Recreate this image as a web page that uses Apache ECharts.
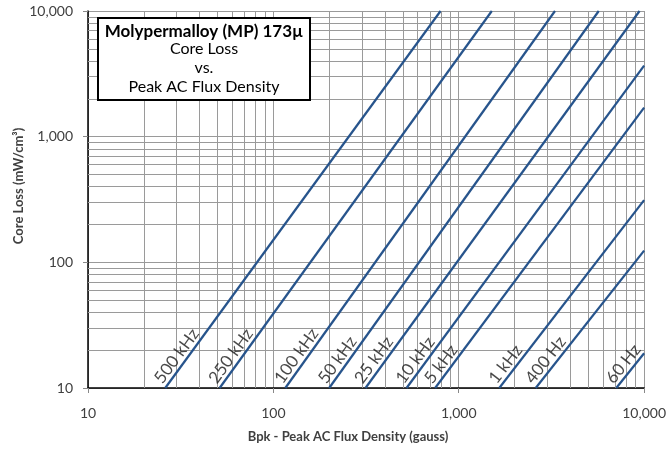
<!DOCTYPE html>
<html>
<head>
<meta charset="utf-8">
<script src="https://cdn.jsdelivr.net/npm/echarts@6/dist/echarts.min.js"></script>
<style>
html,body{margin:0;padding:0;background:#fff;}
#chart{width:669px;height:452px;}
</style>
</head>
<body>
<div id="chart"></div>
<script>
// ---- data ----
const freqLabels = ['500 kHz','250 kHz','100 kHz','50 kHz','25 kHz','10 kHz','5 kHz','1 kHz','400 Hz','60 Hz'];
// each line: start point (flux at loss = 10) and end point where it leaves the plot
const startFlux = [26.1, 51.3, 116, 200, 314, 523, 746, 1654, 2601, 7077];
const startLoss = [10, 10, 10, 10, 10, 10, 10, 10, 10, 10];
const endFlux   = [798, 1508, 3305, 5691, 9447, 10000, 10000, 10000, 10000, 10000];
const endLoss   = [10000, 10000, 10000, 10000, 10000, 3670, 1700, 313, 124, 18.9];
// axis ticks
const majorTicks = [10, 100, 1000, 10000];
const minorGrid = [20,30,40,50,60,70,80,90,200,300,400,500,600,700,800,900,2000,3000,4000,5000,6000,7000,8000,9000];

const FONT = 'Lato, "Open Sans", sans-serif';
const LINE_COLOR = '#27548c';
const GRID_COLOR = '#9a9a9a';

const fmt = v => Math.round(v).toLocaleString('en-US');

function logAxis(extra) {
  return Object.assign({
    type: 'log', logBase: 10, min: majorTicks[0], max: majorTicks[majorTicks.length-1],
    axisLine: {show: true, onZero: false, lineStyle: {color: '#000', width: 1.5}},
    axisTick: {show: true, length: 5, lineStyle: {color: '#888'}},
    splitLine: {show: true, lineStyle: {color: GRID_COLOR, width: 1}},
    minorTick: {show: false}, minorSplitLine: {show: false}
  }, extra);
}

const lineSeries = freqLabels.map((name, i) => ({
  id: 'line' + i,
  name: name,
  type: 'line',
  showSymbol: false,
  symbol: 'none',
  clip: true,
  z: 5,
  lineStyle: {color: LINE_COLOR, width: 2.2},
  data: [[startFlux[i], startLoss[i]], [endFlux[i], endLoss[i]]],
  silent: true,
  animation: false
}));

const gridSeries = {
  id: 'minorGrid',
  type: 'line',
  data: [[majorTicks[0], majorTicks[0]]],
  symbol: 'none',
  lineStyle: {opacity: 0},
  z: 1,
  silent: true,
  animation: false,
  markLine: {
    silent: true, symbol: 'none', animation: false,
    label: {show: false},
    lineStyle: {color: GRID_COLOR, width: 1, type: 'solid'},
    data: minorGrid.map(v => ({xAxis: v})).concat(minorGrid.map(v => ({yAxis: v})))
  }
};

const labelSeries = {
  id: 'labels',
  type: 'scatter',
  symbolSize: 0,
  z: 6,
  silent: true,
  animation: false,
  data: freqLabels.map((name, i) => ({name: name, value: [startFlux[i], startLoss[i]]})),
  label: {
    show: true,
    position: [0, 0],
    formatter: p => p.name,
    align: 'left',
    verticalAlign: 'bottom',
    offset: [1, -1],
    fontFamily: FONT,
    fontSize: 17,
    color: '#1a1a1a'
  }
};

const option = {
  animation: false,
  backgroundColor: '#fff',
  grid: {left: 88, right: 22, top: 11, bottom: 64, containLabel: false},
  xAxis: logAxis({
    axisLabel: {formatter: fmt, fontFamily: FONT, fontSize: 14, color: '#404040', margin: 18}
  }),
  yAxis: logAxis({
    axisLabel: {formatter: fmt, fontFamily: FONT, fontSize: 14, color: '#404040', margin: 15}
  }),
  series: [gridSeries].concat(lineSeries, [labelSeries]),
  graphic: [
    {type: 'rect', shape: {x: 98, y: 18, width: 212, height: 82}, style: {fill: '#fff', stroke: '#000', lineWidth: 2}, z: 100},
    {type: 'text', x: 204, y: 32, z: 101, style: {text: 'Molypermalloy (MP) 173µ', font: 'bold 17px ' + FONT, fill: '#000', align: 'center', verticalAlign: 'middle'}},
    {type: 'text', x: 204, y: 49, z: 101, style: {text: 'Core Loss', font: '16px ' + FONT, fill: '#000', align: 'center', verticalAlign: 'middle'}},
    {type: 'text', x: 204, y: 68, z: 101, style: {text: 'vs.', font: '16px ' + FONT, fill: '#000', align: 'center', verticalAlign: 'middle'}},
    {type: 'text', x: 204, y: 87, z: 101, style: {text: 'Peak AC Flux Density', font: '16px ' + FONT, fill: '#000', align: 'center', verticalAlign: 'middle'}},
    {type: 'text', x: 348, y: 437, z: 101, style: {text: 'Bpk - Peak AC Flux Density (gauss)', font: 'bold 13px ' + FONT, fill: '#404040', align: 'center', verticalAlign: 'middle'}},
    {type: 'text', x: 19, y: 186, rotation: Math.PI / 2, z: 101, style: {text: 'Core Loss (mW/cm³)', font: 'bold 13px ' + FONT, fill: '#404040', align: 'center', verticalAlign: 'middle'}}
  ]
};

const chart = echarts.init(document.getElementById('chart'), null, {renderer: 'canvas'});
chart.setOption(option);

// rotate each label to follow its line on screen
const rotated = freqLabels.map((name, i) => {
  const p0 = chart.convertToPixel({gridIndex: 0}, [startFlux[i], startLoss[i]]);
  const p1 = chart.convertToPixel({gridIndex: 0}, [endFlux[i], endLoss[i]]);
  const ang = Math.atan2(p0[1] - p1[1], p1[0] - p0[0]) * 180 / Math.PI;
  return {name: name, value: [startFlux[i], startLoss[i]], label: {rotate: ang}};
});
chart.setOption({series: [{id: 'labels', data: rotated}]});
</script>
</body>
</html>
